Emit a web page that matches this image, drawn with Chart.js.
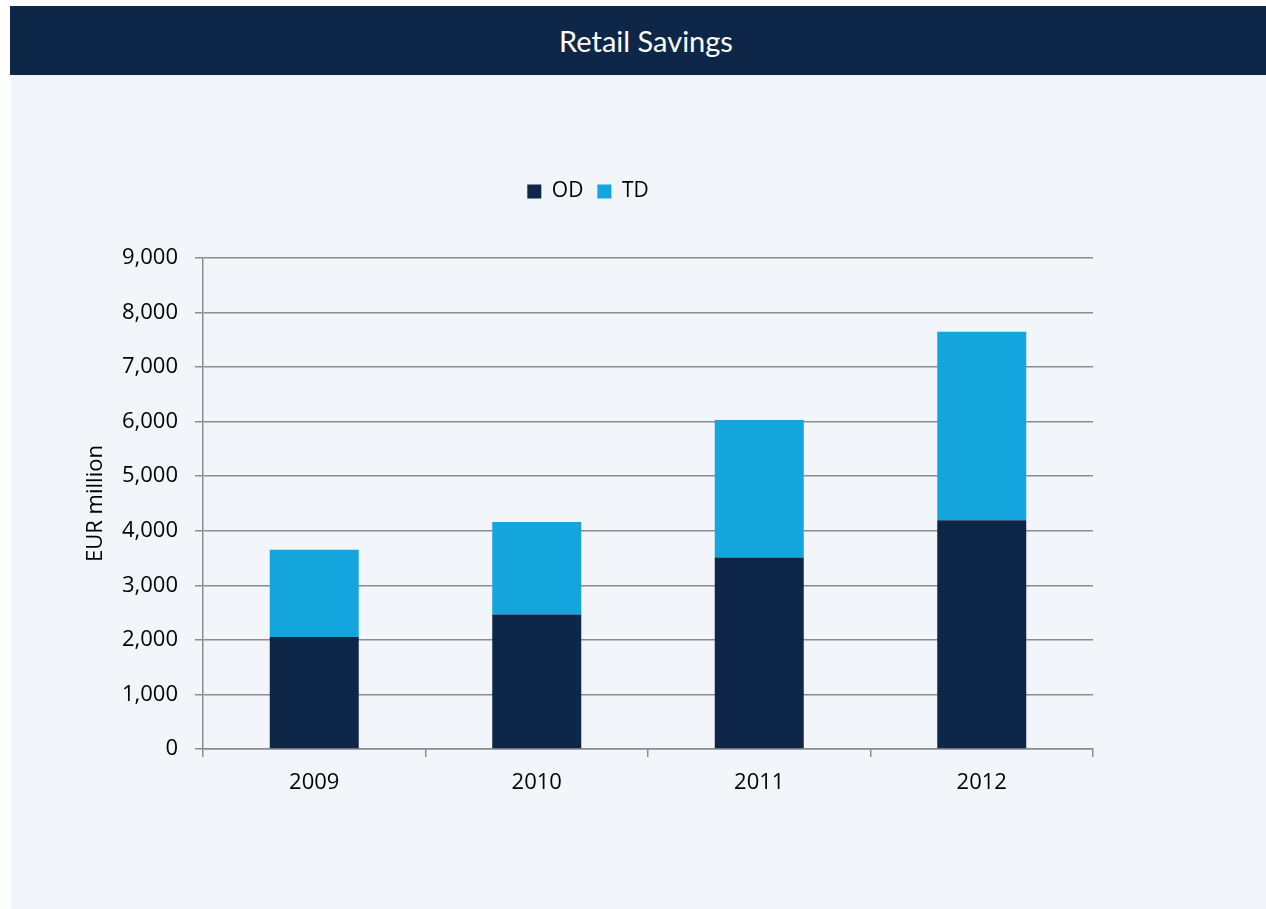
<!DOCTYPE html>
<html>
<head>
<meta charset="utf-8">
<script src="https://cdn.jsdelivr.net/npm/chart.js@4"></script>
<style>
    html, body { margin: 0; padding: 0; background: #ffffff; }
    body { width: 1266px; height: 909px; position: relative; overflow: hidden; }
    #title {
        position: absolute; left: 10px; top: 6px; width: 1256px; height: 69px;
        box-sizing: border-box; padding-left: 16px;
        background: #0e2749; color: #ffffff;
        font-family: Lato, "Open Sans", sans-serif; font-size: 29px;
        line-height: 69px; text-align: center;
    }
    #panel {
        position: absolute; left: 11px; top: 75px; width: 1255px; height: 834px;
        background: #f2f6fa;
    }
    #chart { position: absolute; left: 0; top: 0; }
</style>
</head>
<body>
<div id="title">Retail Savings</div>
<div id="panel"><canvas id="chart" width="1255" height="834"></canvas></div>
<script>
// Values (EUR million)
const years = ['2009', '2010', '2011', '2012'];
const odValues = [2055, 2465, 3510, 4195];
const tdValues = [1595, 1695, 2520, 3455];

const kFont = '"Open Sans", sans-serif';
const kGrid = '#8c8c8c';

// Leave extra room between the legend and the plot
const legendGap = {
    id: 'legendGap',
    beforeInit(chart) {
        const fit = chart.legend.fit;
        chart.legend.fit = function () {
            fit.call(this);
            this.height += 46;
        };
    },
};

const chart = new Chart(
    document.getElementById('chart'),
    {
        type: 'bar',
        data: {
            labels: years,
            datasets: [
                {
                    label: 'OD',
                    data: odValues,
                    backgroundColor: '#0e2749',
                    categoryPercentage: 1,
                    barPercentage: 0.4,
                },
                {
                    label: 'TD',
                    data: tdValues,
                    backgroundColor: '#13a5dc',
                    categoryPercentage: 1,
                    barPercentage: 0.4,
                },
            ]
        },
        options: {
            responsive: false,
            animation: false,
            layout: {
                padding: { left: 72, right: 173, top: 92, bottom: 120 },
            },
            scales: {
                x: {
                    stacked: true,
                    grid: {
                        offset: true,
                        drawOnChartArea: false,
                        color: kGrid,
                        lineWidth: 1.5,
                        tickLength: 8,
                    },
                    border: { color: kGrid, width: 1.5 },
                    ticks: {
                        color: '#000000',
                        padding: 13,
                        font: { family: kFont, size: 22 },
                    },
                    afterFit: (scale) => { scale.height = 40; },
                },
                y: {
                    stacked: true,
                    min: 0,
                    max: 9000,
                    grid: {
                        color: kGrid,
                        lineWidth: 1.5,
                        tickLength: 8,
                    },
                    border: { color: kGrid, width: 1.5 },
                    ticks: {
                        stepSize: 1000,
                        color: '#000000',
                        padding: 17,
                        font: { family: kFont, size: 22 },
                        callback: (v) => v.toLocaleString('en-US'),
                    },
                    title: {
                        display: true,
                        text: 'EUR million',
                        color: '#000000',
                        padding: 0,
                        font: { family: kFont, size: 22 },
                    },
                    afterFit: (scale) => { scale.width = 120; },
                },
            },
            plugins: {
                legend: {
                    position: 'top',
                    labels: {
                        boxWidth: 14,
                        boxHeight: 14,
                        padding: 14,
                        color: '#000000',
                        font: { family: kFont, size: 21 },
                    },
                },
                tooltip: { enabled: false },
            }
        },
        plugins: [legendGap],
    }
);
</script>
</body>
</html>
